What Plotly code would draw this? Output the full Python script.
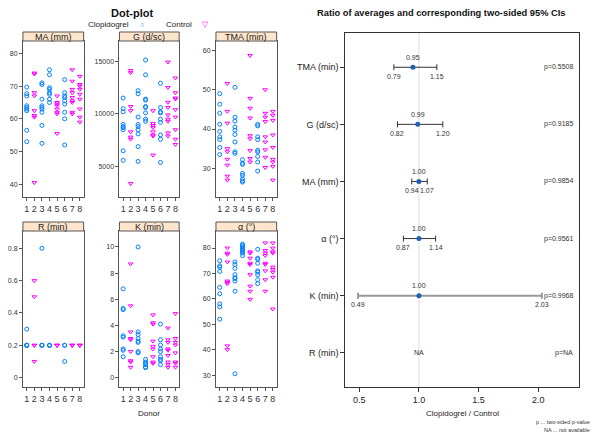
import plotly.graph_objects as go

# donors 1,3,4,6 were on clopidogrel, 2,5,7,8 are controls
clop_donors = [1, 3, 4, 6]
ctrl_donors = [2, 5, 7, 8]

# measurements per donor (index 0 -> donor 1 ... index 7 -> donor 8)
ma_mm = [
    [69.7, 67.7, 67, 64, 63.5, 63, 62.5, 56.5, 53],
    [74, 73.7, 68, 67, 62.5, 61, 60.5, 40.5],
    [71, 70.5, 66, 64, 63.5, 63, 62, 58, 52.5],
    [75, 73.5, 69.5, 69, 68, 67.5, 66, 65],
    [67, 65, 64.5, 64, 63, 62, 61.5, 55.5],
    [72, 68, 67, 66.5, 65.5, 64.5, 62, 60, 52],
    [75, 71.5, 69, 68, 66.5, 65.5, 65, 62, 61.5],
    [73, 70.5, 70, 69, 67.5, 66, 63, 60.5, 59],
]
g_dsc = [
    [11500, 10500, 10200, 9000, 8800, 8700, 8500, 6500, 5600],
    [14100, 13900, 10700, 10300, 8300, 7800, 7600, 3400],
    [12200, 11900, 9700, 9000, 8800, 8500, 8100, 6900, 5500],
    [15100, 13700, 11400, 11300, 10700, 10600, 10100, 9500, 9300],
    [10300, 9100, 8900, 8700, 8300, 8000, 7900, 6100],
    [12900, 10600, 10200, 10100, 9500, 9200, 8000, 7600, 5400],
    [14900, 12500, 11100, 10600, 9900, 9500, 9300, 8200, 7900],
    [13400, 12000, 11500, 11400, 10400, 9700, 8500, 7600, 7100],
]
tma_min = [
    [49, 46.3, 44, 41.2, 39.4, 38, 37.3, 35.3, 33.5],
    [51.6, 44.5, 41.5, 35, 34.2, 32.3, 30.8, 28, 27],
    [50.6, 43, 42, 40.5, 39.7, 38.6, 36.7, 34.2, 33.8],
    [32.2, 31.3, 31, 28.7, 28.2, 27.3, 26.8, 26.5],
    [58.7, 47.8, 45.3, 42.8, 38.3, 37.5, 34.5, 32.5, 31.6],
    [41.2, 40.8, 38, 37.3, 34.6, 34.2, 33, 31.6, 29.3],
    [50, 44, 43, 41.9, 38, 36.7, 34.7, 32.8, 30.2],
    [44.5, 43.5, 42.2, 38.5, 35.3, 32.3, 31.6, 30.5, 27],
]
r_min = [
    [0.3, 0.2, 0.2, 0.2, 0.2],
    [0.6, 0.5, 0.2, 0.2, 0.1],
    [0.8, 0.2, 0.2, 0.2],
    [0.2, 0.2, 0.2],
    [0.2, 0.2, 0.2],
    [0.2, 0.2, 0.1],
    [0.2, 0.2, 0.2],
    [0.2, 0.2, 0.2],
]
k_min = [
    [6.8, 5.3, 5.2, 3.2, 3.1, 2.2, 2.1, 1.6],
    [8.7, 5.5, 3.5, 3.0, 2.9, 2.0, 1.3, 1.2, 0.8],
    [10, 3.5, 3.3, 3.0, 2.8, 2.7, 2.0, 1.9],
    [1.4, 1.2, 1.1, 1.0, 0.8, 0.8, 0.8],
    [4.8, 4.2, 4.1, 2.8, 2.4, 2.2, 1.6, 1.2, 1.1],
    [4.1, 2.9, 2.5, 2.2, 2.0, 1.6, 1.4, 1.3, 1.0],
    [3.8, 2.9, 2.7, 2.2, 2.1, 1.7, 1.2, 1.0, 0.8],
    [4.9, 3.0, 2.7, 2.5, 1.9, 1.2, 1.1, 0.8],
]
alpha_deg = [
    [75, 73, 72.5, 70.8, 64.5, 62, 58, 56.8, 52],
    [80, 78, 77.5, 74.5, 67, 66.5, 66, 41.5, 40],
    [74.5, 73.5, 72, 69.5, 68.3, 68, 67, 63, 30.5],
    [81.5, 81, 80.5, 80, 79.5, 79, 78.5, 78, 77],
    [78.5, 78, 76, 74, 73.5, 69.5, 65, 63, 59.8],
    [79.5, 76, 75.5, 74, 71, 70.5, 69.5, 67.5, 66],
    [82, 79, 78, 77, 74, 73.5, 71, 67.5, 63],
    [82, 80, 78.5, 78, 72.5, 71.5, 70.5, 68.5, 56],
]

# ratio of averages (Clopidogrel / Control) with 95% CIs
ratio_labels = ["TMA (min)", "G (d/sc)", "MA (mm)", "α (°)", "K (min)", "R (min)"]
ratio_est = [0.95, 0.99, 1.00, 1.00, 1.00, None]
ratio_lo = [0.79, 0.82, 0.94, 0.87, 0.49, None]
ratio_hi = [1.15, 1.20, 1.07, 1.14, 2.03, None]
p_values = ["0.5508", "0.9185", "0.9854", "0.9561", "0.9968", "NA"]

FONT = "Liberation Sans, Arial, sans-serif"
BLUE = "#0080ff"
MAGENTA = "#ff00ff"
FRAME = "#555555"

panels = [
    ("MA (mm)", ma_mm, [36.1, 83.8], [40, 50, 60, 70, 80]),
    ("G (d/sc)", g_dsc, [2130, 16900], [5000, 10000, 15000]),
    ("TMA (min)", tma_min, [22.7, 62.4], [30, 40, 50, 60]),
    ("R (min)", r_min, [-0.058, 0.907], [0.0, 0.2, 0.4, 0.6, 0.8]),
    ("K (min)", k_min, [-0.71, 11.22], [0, 2, 4, 6, 8, 10]),
    ("α (°)", alpha_deg, [25.3, 86.7], [30, 40, 50, 60, 70, 80]),
]

col_x = [(20, 81), (117, 177), (214, 275)]
row_y = [(41, 197), (231, 387)]

# the page body adds an 8px margin, so the figure is drawn 8px smaller
OFF = 8
W, H = 600 - OFF, 439 - OFF


def px(x):
    return (x - OFF) / W


def py(y):
    return 1 - (y - OFF) / H


fig = go.Figure()
layout = {}
shapes = []
annotations = []

for i, (name, data, yr, yt) in enumerate(panels):
    r, c = divmod(i, 3)
    n = i + 1
    xs = "" if n == 1 else str(n)
    x0, x1 = col_x[c]
    y0, y1 = row_y[r]
    for donors, color, sym, lab in [
        (clop_donors, BLUE, "circle-open", "Clopidogrel"),
        (ctrl_donors, MAGENTA, "triangle-down-open", "Control"),
    ]:
        xv, yv = [], []
        for d in donors:
            for v in data[d - 1]:
                xv.append(d)
                yv.append(v)
        fig.add_trace(go.Scatter(
            x=xv, y=yv, mode="markers", name=lab, showlegend=False,
            xaxis="x" + xs, yaxis="y" + xs,
            marker=dict(symbol=sym, size=4, color=color, line=dict(width=1, color=color)),
        ))
    layout["xaxis" + xs] = dict(
        domain=[px(x0), px(x1)], anchor="y" + xs, range=[0.5, 8.5],
        tickvals=list(range(1, 9)), ticks="outside", ticklen=3, tickcolor=FRAME,
        showline=True, mirror=True, linecolor=FRAME, showgrid=False, zeroline=False,
        tickfont=dict(size=9, color="#333"),
    )
    layout["yaxis" + xs] = dict(
        domain=[py(y1), py(y0)], anchor="x" + xs, range=yr,
        tickvals=yt, ticktext=[f"{t:g}" if t < 1000 else str(t) for t in yt],
        ticks="outside", ticklen=3, tickcolor=FRAME,
        showline=True, mirror=True, linecolor=FRAME, showgrid=False, zeroline=False,
        tickfont=dict(size=7, color="#333"),
    )
    # strip header
    shapes.append(dict(type="rect", xref="paper", yref="paper",
                       x0=px(x0), x1=px(x1), y0=py(y0), y1=py(y0 - 9),
                       fillcolor="#ffe5cc", line=dict(color=FRAME, width=1)))
    annotations.append(dict(text=name, x=px((x0 + x1) / 2), y=py(y0 - 4.5),
                            font=dict(size=9, color="#222")))

# forest plot
ypos = list(range(len(ratio_labels), 0, -1))
valid = [i for i, e in enumerate(ratio_est) if e is not None]
shapes.append(dict(type="line", xref="x7", yref="paper", x0=1, x1=1,
                   y0=py(387), y1=py(33), line=dict(color="#dddddd", width=1), layer="below"))
for i in valid:
    is_k = ratio_labels[i].startswith("K")
    fig.add_trace(go.Scatter(
        x=[ratio_est[i]], y=[ypos[i]], mode="markers", showlegend=False,
        xaxis="x7", yaxis="y7",
        marker=dict(size=5, color="#1f5fb4"),
        error_x=dict(type="data", symmetric=False,
                     array=[ratio_hi[i] - ratio_est[i]],
                     arrayminus=[ratio_est[i] - ratio_lo[i]],
                     color="#999999" if is_k else "#333333",
                     thickness=2 if is_k else 1, width=3),
    ))
    annotations.append(dict(x=ratio_est[i], y=ypos[i], xref="x7", yref="y7",
                            text=f"{ratio_est[i]:.2f}", yshift=10, font=dict(size=7, color="#333")))
    annotations.append(dict(x=ratio_lo[i], y=ypos[i], xref="x7", yref="y7",
                            text=f"{ratio_lo[i]:.2f}", yshift=-9, font=dict(size=7, color="#333")))
    annotations.append(dict(x=ratio_hi[i], y=ypos[i], xref="x7", yref="y7",
                            text=f"{ratio_hi[i]:.2f}", yshift=-9, font=dict(size=7, color="#333")))
for i, e in enumerate(ratio_est):
    if e is None:
        annotations.append(dict(x=1.0, y=ypos[i], xref="x7", yref="y7", text="NA",
                                font=dict(size=7, color="#333")))
    annotations.append(dict(x=2.31, y=ypos[i], xref="x7", yref="y7", text="p=" + p_values[i],
                            xanchor="right", font=dict(size=7, color="#333")))

layout["xaxis7"] = dict(
    domain=[px(344), px(579)], anchor="y7", range=[0.383, 2.342],
    tickvals=[0.5, 1.0, 1.5, 2.0], tickformat=".1f", ticks="outside", ticklen=4,
    tickcolor="#333", showline=True, mirror=True, linecolor="#333", showgrid=False,
    zeroline=False, tickfont=dict(size=9, color="#222"),
)
layout["yaxis7"] = dict(
    domain=[py(387), py(33)], anchor="x7", range=[0.4, 6.6],
    tickvals=ypos, ticktext=ratio_labels, ticks="outside", ticklen=4,
    tickcolor="#333", showline=True, mirror=True, linecolor="#333", showgrid=False,
    zeroline=False, tickfont=dict(size=9, color="#222"),
)

# titles, legend and notes
annotations += [
    dict(text="<b>Dot-plot</b>", x=px(130), y=py(13), font=dict(size=11, color="#111")),
    dict(text="<b>Ratio of averages and corresponding two-sided 95% CIs</b>", x=px(441), y=py(13),
         font=dict(size=9.3, color="#111")),
    dict(text="Clopidogrel", x=px(129), y=py(24), xanchor="right", font=dict(size=8, color="#222")),
    dict(text="○", x=px(140), y=py(24), font=dict(size=7, color=BLUE)),
    dict(text="Control", x=px(192), y=py(24), xanchor="right", font=dict(size=8, color="#222")),
    dict(text="▽", x=px(203), y=py(24), font=dict(size=8, color=MAGENTA)),
    dict(text="Donor", x=px(147), y=py(413), font=dict(size=8, color="#222")),
    dict(text="Clopidogrel / Control", x=px(462), y=py(413), font=dict(size=8, color="#222")),
    dict(text="p ... two-sided p-value", x=px(592), y=py(422), xanchor="right",
         font=dict(size=5.5, color="#333")),
    dict(text="NA ... not available", x=px(592), y=py(430), xanchor="right",
         font=dict(size=5.5, color="#333")),
]
for a in annotations:
    a.setdefault("xref", "paper")
    a.setdefault("yref", "paper")
    a.setdefault("xanchor", "center")
    a.setdefault("yanchor", "middle")
    a.setdefault("showarrow", False)
    fig.add_annotation(**a)

fig.update_layout(
    **layout,
    shapes=shapes,
    width=W, height=H,
    margin=dict(l=0, r=0, t=0, b=0),
    paper_bgcolor="white", plot_bgcolor="white",
    font=dict(family=FONT),
    showlegend=False,
)

fig.write_html("out.html")
